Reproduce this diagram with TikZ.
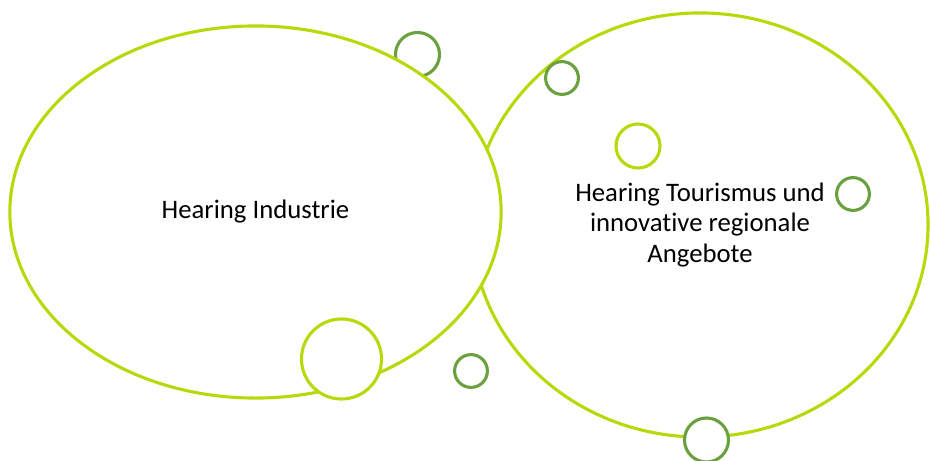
\documentclass[tikz,border=0pt]{standalone}
\usepackage{fontspec}
\setmainfont{Carlito}[Ligatures=NoCommon]
\usetikzlibrary{shapes.geometric}
\definecolor{lime}{RGB}{184,216,10}
\definecolor{leaf}{RGB}{106,160,62}
\begin{document}
\begin{tikzpicture}[x=0.025cm, y=-0.025cm]
\tikzstyle{bubble}=[draw, line width=2.2pt, fill=white, ellipse, inner sep=0pt, align=center, font=\fontsize{19}{21.5}\selectfont]
\tikzstyle{dot}=[draw, line width=2.2pt, fill=white, circle, inner sep=0pt]
\useasboundingbox (0,0) rectangle (930,461);
\node[dot, draw=leaf, minimum size=1.1cm](d1) at (417.5,54.5) {};
\node[bubble, draw=lime, minimum width=11.4cm, minimum height=10.6cm](tour) at (700,225) {Hearing Tourismus und\\innovative regionale\\Angebote};
\node[bubble, draw=lime, minimum width=12.28cm, minimum height=9.3cm](ind) at (255.5,212) {Hearing Industrie};
\node[dot, draw=leaf, minimum size=0.82cm](d2) at (562,78) {};
\node[dot, draw=lime, minimum size=1.1cm](d3) at (638,146) {};
\node[dot, draw=leaf, minimum size=0.82cm](d4) at (853,194) {};
\node[dot, draw=lime, minimum size=2cm](d5) at (341.5,359) {};
\node[dot, draw=leaf, minimum size=0.82cm](d6) at (471,371) {};
\node[dot, draw=leaf, minimum size=1.1cm](d7) at (706.5,440) {};
\end{tikzpicture}
\end{document}
